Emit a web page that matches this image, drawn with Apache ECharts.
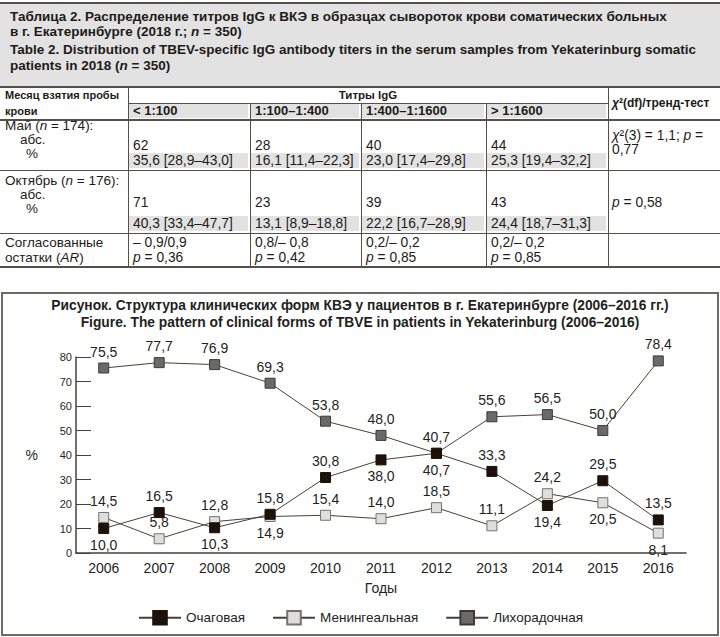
<!DOCTYPE html>
<html><head><meta charset="utf-8">
<script src="https://cdn.jsdelivr.net/npm/echarts@6/dist/echarts.min.js"></script>
<style>
html,body{margin:0;padding:0;background:#fff;}
#page{position:relative;width:720px;height:637px;overflow:hidden;font-family:"Liberation Sans",Arial,sans-serif;color:#1e1b18;}
.ln{position:absolute;background:#55504a;}
.gr{position:absolute;background:#e2e2e2;}
.t{position:absolute;white-space:nowrap;line-height:12px;height:12px;font-size:13.8px;}
.b{font-weight:bold;}
</style></head><body>
<div id="page">
 <div id="tbl"></div>
 <div id="frame" style="position:absolute;left:1px;top:292px;width:714px;height:340px;border:2px solid #6e6a62;"></div>
 <div id="chart" style="position:absolute;left:0;top:293px;width:720px;height:344px;"></div>
</div>
<script>
// ---------- table data ----------
const tableTitle = [
  'Таблица 2. Распределение титров IgG к ВКЭ в образцах сывороток крови соматических больных',
  'в г. Екатеринбурге (2018 г.; <i>n</i> = 350)',
  'Table 2. Distribution of TBEV-specific IgG antibody titers in the serum samples from Yekaterinburg somatic',
  'patients in 2018 (<i>n</i> = 350)'
];
const titerLabels = ['&lt; 1:100', '1:100–1:400', '1:400–1:1600', '&gt; 1:1600'];
const mayAbs = ['62', '28', '40', '44'];
const mayPct = ['35,6 [28,9–43,0]', '16,1 [11,4–22,3]', '23,0 [17,4–29,8]', '25,3 [19,4–32,2]'];
const octAbs = ['71', '23', '39', '43'];
const octPct = ['40,3 [33,4–47,7]', '13,1 [8,9–18,8]', '22,2 [16,7–28,9]', '24,4 [18,7–31,3]'];
const arVals = ['– 0,9/0,9', '0,8/– 0,8', '0,2/– 0,2', '0,2/– 0,2'];
const arP = ['0,36', '0,42', '0,85', '0,85'];
const chiMay = ['<i>χ</i>²(3) = 1,1; <i>p</i> =', '0,77'];
const chiOct = '<i>p</i> = 0,58';

// ---------- chart data ----------
const years = ['2006','2007','2008','2009','2010','2011','2012','2013','2014','2015','2016'];
const focal = [10.0, 16.5, 10.3, 15.8, 30.8, 38.0, 40.7, 33.3, 19.4, 29.5, 13.5];
const meningeal = [14.5, 5.8, 12.8, 14.9, 15.4, 14.0, 18.5, 11.1, 24.2, 20.5, 8.1];
const febrile = [75.5, 77.7, 76.9, 69.3, 53.8, 48.0, 40.7, 55.6, 56.5, 50.0, 78.4];
const seriesNames = ['Очаговая', 'Менингеальная', 'Лихорадочная'];

// label placement (style only)
const focalPos = ['bottom','top','bottom','top','top','bottom','bottom','top','bottom','top','top'];
const meningPos = ['top','top','top','bottom','top','top','top','top','top','bottom','bottom'];
const febrilePos = ['top','top','top','top','top','top','top','top','top','top','top'];

// ---------- build table ----------
const tbl = document.getElementById('tbl');
function box(cls, x, y, w, h) {
  const d = document.createElement('div');
  d.className = cls;
  d.style.left = x + 'px'; d.style.top = y + 'px';
  d.style.width = w + 'px'; d.style.height = h + 'px';
  tbl.appendChild(d);
}
function txt(x, y, html, extra) {
  const d = document.createElement('div');
  d.className = 't' + (extra && extra.bold ? ' b' : '');
  d.style.left = x + 'px'; d.style.top = (y - 6) + 'px';
  if (extra && extra.size) d.style.fontSize = extra.size + 'px';
  if (extra && extra.center) { d.style.width = extra.center + 'px'; d.style.textAlign = 'center'; }
  d.innerHTML = html;
  tbl.appendChild(d);
}
const cols = [0, 128, 250, 361, 486, 608, 720];
// title block
box('gr', 0, 4, 720, 82);
box('ln', 0, 2, 720, 2);
tableTitle.forEach((s, i) => txt(10, [17, 32, 50, 66][i], s, {bold: true, size: 13.5}));
box('ln', 0, 86, 720, 2);
// header
box('ln', 128, 103, 480, 1);
for (let c = 1; c <= 4; c++) {
  box('gr', cols[c] + 1, 104, cols[c + 1] - cols[c] - 3, 14);
  box('gr', cols[c] + 1, 153, cols[c + 1] - cols[c] - 3, 15);
  box('gr', cols[c] + 1, 216, cols[c + 1] - cols[c] - 3, 15);
}
box('ln', 0, 119, 720, 2);
box('ln', 0, 170, 720, 1);
box('ln', 0, 233, 720, 1);
box('ln', 0, 266, 720, 2);
box('ln', 128, 88, 1, 178);
box('ln', 608, 88, 1, 178);
for (let c = 2; c <= 4; c++) box('ln', cols[c], 104, 1, 162);

txt(5, 95, 'Месяц взятия пробы', {bold: true, size: 11});
txt(5, 111, 'крови', {bold: true, size: 11});
txt(128, 95, 'Титры IgG', {bold: true, size: 11.5, center: 480});
txt(612, 103, '<i>χ</i>²(df)/тренд-тест', {bold: true, size: 12});
titerLabels.forEach((s, i) => txt(cols[i + 1] + 5, 111, s, {bold: true, size: 13}));

const lc = {size: 13.5};
txt(5, 126, 'Май (<i>n</i> = 174):', lc);
txt(20, 140, 'абс.', lc);
txt(26, 154, '%', lc);
txt(5, 181, 'Октябрь (<i>n</i> = 176):', lc);
txt(20, 195, 'абс.', lc);
txt(26, 209, '%', lc);
txt(5, 243, 'Согласованные', lc);
txt(5, 258, 'остатки (<i>AR</i>)', lc);
for (let i = 0; i < 4; i++) {
  const x = cols[i + 1] + 5;
  txt(x, 146, mayAbs[i]);
  txt(x, 161, mayPct[i]);
  txt(x, 203, octAbs[i]);
  txt(x, 224, octPct[i]);
  txt(x, 243, arVals[i]);
  txt(x, 258, '<i>p</i> = ' + arP[i]);
}
txt(612, 136, chiMay[0]);
txt(612, 150, chiMay[1]);
txt(612, 203, chiOct);

// ---------- chart ----------
const chart = echarts.init(document.getElementById('chart'), null, {renderer: 'svg'});
const fmt = p => p.value.toFixed(1).replace('.', ',');
function mk(vals, pos) {
  return vals.map((v, i) => ({value: v, label: {position: pos[i]}}));
}
const lineColor = '#4a4038';
const fontFam = '"Liberation Sans", Arial, sans-serif';
const labelCommon = {show: true, formatter: fmt, fontSize: 14, color: '#231f1c', distance: 4, fontFamily: fontFam};
chart.setOption({
  animation: false,
  title: {
    text: 'Рисунок. Структура клинических форм КВЭ у пациентов в г. Екатеринбурге (2006–2016 гг.)\nFigure. The pattern of clinical forms of TBVE in patients in Yekaterinburg (2006–2016)',
    left: 'center', top: 4, padding: 0,
    textStyle: {fontSize: 13.8, fontWeight: 'bold', color: '#231f1c', lineHeight: 17, fontFamily: fontFam}
  },
  legend: {
    data: seriesNames,
    top: 312, left: 133,
    itemWidth: 42, itemHeight: 17, itemGap: 27,
    textStyle: {fontSize: 13.5, color: '#231f1c', fontFamily: fontFam}
  },
  grid: {left: 76, right: 34, top: 64, bottom: 84},
  xAxis: {
    type: 'category', data: years, boundaryGap: true,
    name: 'Годы', nameLocation: 'middle', nameGap: 28,
    nameTextStyle: {fontSize: 14, color: '#231f1c', fontFamily: fontFam},
    axisLine: {lineStyle: {color: lineColor, width: 1.5}},
    axisTick: {inside: true, length: 8, lineStyle: {color: lineColor, width: 1}},
    axisLabel: {fontSize: 14, color: '#231f1c', margin: 8, fontFamily: fontFam}
  },
  yAxis: {
    type: 'value', min: 0, max: 80, interval: 10,
    name: '%', nameLocation: 'middle', nameRotate: 0, nameGap: 38,
    nameTextStyle: {fontSize: 14, color: '#231f1c', fontFamily: fontFam},
    axisLine: {show: true, lineStyle: {color: lineColor, width: 1.5}},
    axisTick: {show: true, inside: true, length: 15, lineStyle: {color: lineColor, width: 1}},
    axisLabel: {fontSize: 11, color: '#231f1c', margin: 4, fontFamily: fontFam},
    splitLine: {show: false}
  },
  series: [
    {
      name: seriesNames[2], type: 'line', data: mk(febrile, febrilePos),
      symbol: 'rect', symbolSize: 10,
      lineStyle: {color: lineColor, width: 1},
      itemStyle: {color: '#6a6a6a', borderColor: '#3e3a36', borderWidth: 1},
      label: labelCommon
    },
    {
      name: seriesNames[1], type: 'line', data: mk(meningeal, meningPos),
      symbol: 'rect', symbolSize: 10,
      lineStyle: {color: lineColor, width: 1},
      itemStyle: {color: '#dedede', borderColor: '#77726c', borderWidth: 1},
      label: labelCommon
    },
    {
      name: seriesNames[0], type: 'line', data: mk(focal, focalPos),
      symbol: 'rect', symbolSize: 10,
      lineStyle: {color: lineColor, width: 1},
      itemStyle: {color: '#1c120a', borderColor: '#1c120a', borderWidth: 1},
      label: labelCommon
    }
  ]
});
</script>
</body></html>
